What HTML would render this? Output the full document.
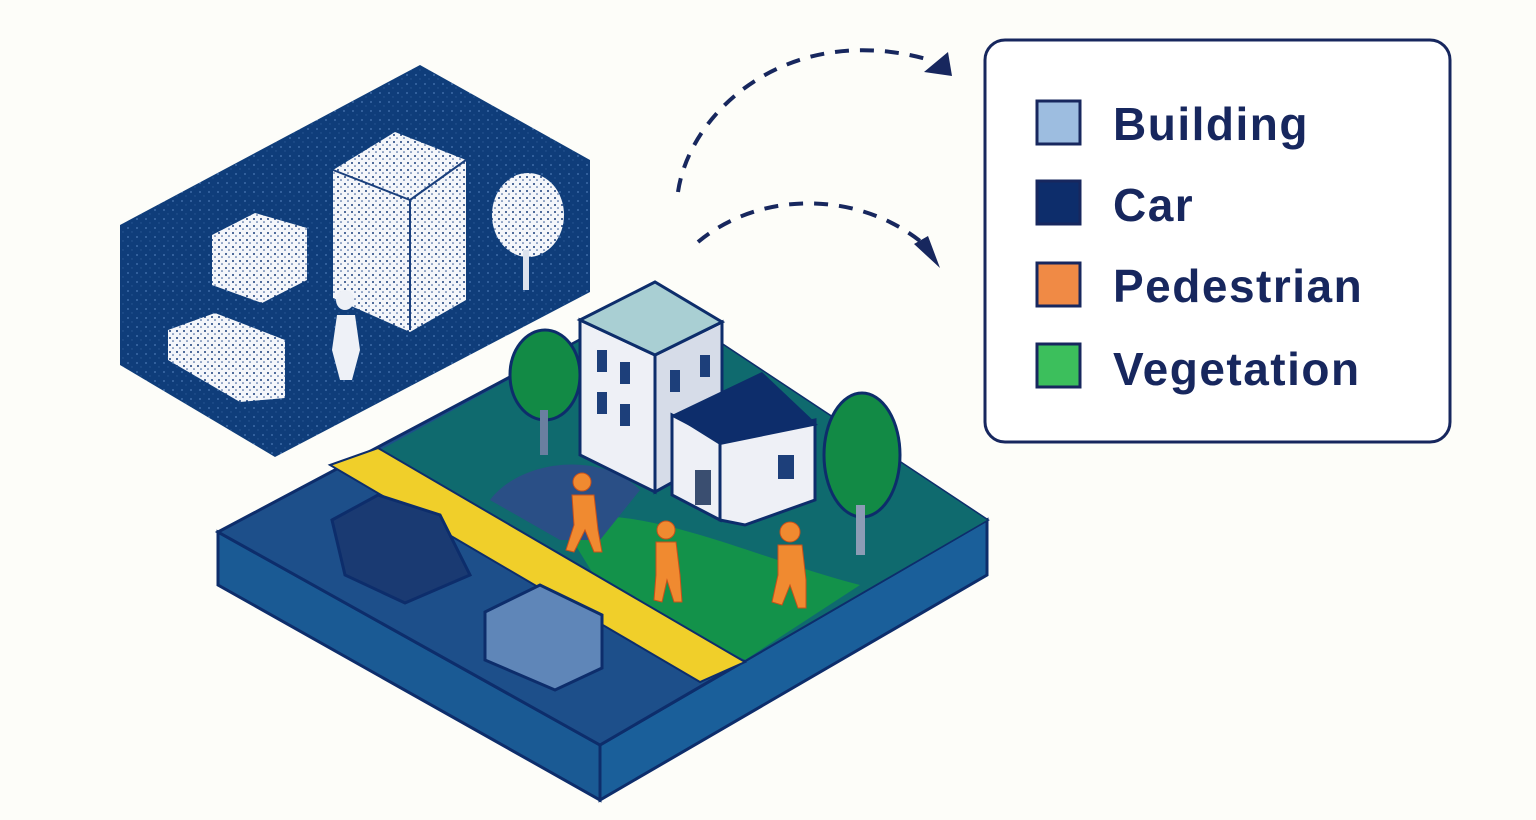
<!DOCTYPE html>
<html><head><meta charset="utf-8"><style>
html,body{margin:0;padding:0;background:#fdfdf9;}
svg{display:block}
text{font-family:"Liberation Sans",sans-serif;font-weight:bold;fill:#17275e;letter-spacing:1.5px}
</style></head><body>
<svg width="1536" height="820" viewBox="0 0 1536 820" xmlns="http://www.w3.org/2000/svg">
<defs>
<pattern id="sp" width="9" height="9" patternUnits="userSpaceOnUse">
<rect width="9" height="9" fill="#0f3d7a"/><circle cx="2" cy="3" r="0.9" fill="#4a78b4"/><circle cx="6" cy="7" r="0.7" fill="#2a5894"/>
</pattern>
<pattern id="ws" width="7" height="7" patternUnits="userSpaceOnUse">
<rect width="7" height="7" fill="#f4f6fa"/><circle cx="2" cy="2" r="1" fill="#1a3f7c"/><circle cx="5" cy="5" r="0.8" fill="#2a5090"/>
</pattern>
</defs>
<polygon points="120,225 420,65 590,160 590,292 275,457 120,365" fill="url(#sp)"/>
<polygon points="212,235 255,213 307,228 307,280 262,303 212,285" fill="url(#ws)"/>
<polygon points="333,170 395,132 466,160 466,300 410,332 333,298" fill="url(#ws)"/>
<line x1="333" y1="170" x2="410" y2="200" stroke="#1a3f7c" stroke-width="2"/><line x1="410" y1="200" x2="466" y2="160" stroke="#1a3f7c" stroke-width="2"/><line x1="410" y1="200" x2="410" y2="330" stroke="#1a3f7c" stroke-width="2"/>
<polygon points="168,330 215,313 285,340 285,398 240,402 168,360" fill="url(#ws)"/>
<ellipse cx="528" cy="215" rx="36" ry="42" fill="url(#ws)"/>
<rect x="523" y="250" width="6" height="40" fill="#dde3ee"/>
<ellipse cx="345" cy="300" rx="9" ry="10" fill="#eef1f7"/>
<polygon points="337,315 355,315 360,350 352,380 340,380 332,350" fill="#eef1f7"/>
<path d="M678,192 C690,110 790,20 930,60" fill="none" stroke="#17275e" stroke-width="4" stroke-dasharray="14,11"/>
<polygon points="924,72 948,52 952,76" fill="#17275e"/>
<path d="M698,242 C760,190 860,190 925,245" fill="none" stroke="#17275e" stroke-width="4" stroke-dasharray="14,11"/>
<polygon points="914,244 940,268 928,236" fill="#17275e"/>
<rect x="985" y="40" width="465" height="402" rx="20" fill="#ffffff" stroke="#17275e" stroke-width="3"/>
<rect x="1037" y="101" width="43" height="43" fill="#9dbde0" stroke="#17275e" stroke-width="3"/>
<rect x="1037" y="181" width="43" height="43" fill="#0d2d6b" stroke="#17275e" stroke-width="3"/>
<rect x="1037" y="263" width="43" height="43" fill="#f08a45" stroke="#17275e" stroke-width="3"/>
<rect x="1037" y="344" width="43" height="43" fill="#3cbf5c" stroke="#17275e" stroke-width="3"/>
<text x="1113" y="140" font-size="46">Building</text>
<text x="1113" y="221" font-size="46">Car</text>
<text x="1113" y="302" font-size="46">Pedestrian</text>
<text x="1113" y="385" font-size="46">Vegetation</text>
<polygon points="218,532 600,745 600,800 218,585" fill="#1a5a94" stroke="#0d2d6b" stroke-width="3"/>
<polygon points="600,745 987,520 987,575 600,800" fill="#1a5f9a" stroke="#0d2d6b" stroke-width="3"/>
<polygon points="218,532 655,300 987,520 600,745" fill="#1d4f8a" stroke="#0d2d6b" stroke-width="3"/>
<polygon points="380,450 655,300 987,520 745,660" fill="#0f6a6e"/>
<path d="M560,520 C640,500 760,560 860,585 L745,660 L600,585 Z" fill="#13924a"/>
<path d="M490,500 C520,460 600,450 640,490 L600,540 L560,540 Z" fill="#2a4f86"/>
<polygon points="330,465 378,448 745,662 700,682" fill="#f0cf2a" stroke="#0d2d6b" stroke-width="2"/>
<path d="M332,520 L378,495 L440,515 L470,575 L405,603 L345,575 Z" fill="#1a3a72" stroke="#0d2d6b" stroke-width="3"/>
<polygon points="485,612 540,585 602,615 602,668 555,690 485,660" fill="#5f86b8" stroke="#0d2d6b" stroke-width="3"/>
<ellipse cx="545" cy="375" rx="35" ry="45" fill="#128a45" stroke="#0d2d6b" stroke-width="3"/>
<rect x="540" y="410" width="8" height="45" fill="#6a7fa0"/>
<ellipse cx="862" cy="455" rx="38" ry="62" fill="#128a45" stroke="#0d2d6b" stroke-width="3"/>
<rect x="856" y="505" width="9" height="50" fill="#8c9cb5"/>
<polygon points="580,320 655,355 655,492 580,455" fill="#eef0f6" stroke="#0d2d6b" stroke-width="3"/>
<polygon points="655,355 722,322 722,455 655,492" fill="#d6dce8" stroke="#0d2d6b" stroke-width="3"/>
<polygon points="580,320 655,282 722,322 655,355" fill="#a9cfd3" stroke="#0d2d6b" stroke-width="3"/>
<g fill="#1d3f7a"><rect x="597" y="350" width="10" height="22"/><rect x="620" y="362" width="10" height="22"/><rect x="597" y="392" width="10" height="22"/><rect x="620" y="404" width="10" height="22"/><rect x="670" y="370" width="10" height="22"/><rect x="700" y="355" width="10" height="22"/></g>
<polygon points="672,415 720,440 720,520 672,495" fill="#eef0f6" stroke="#0d2d6b" stroke-width="3"/>
<polygon points="720,440 815,420 815,500 745,525 720,520" fill="#eef0f6" stroke="#0d2d6b" stroke-width="3"/>
<polygon points="672,415 762,372 818,425 720,445" fill="#0d2d6b"/>
<rect x="778" y="455" width="16" height="24" fill="#1d3f7a"/>
<rect x="695" y="470" width="16" height="35" fill="#3a4e70"/>
<g fill="#f08a30" stroke="#c8501a" stroke-width="1">
<circle cx="582" cy="482" r="9"/><path d="M572,495 L594,495 L598,530 L602,552 L594,552 L585,530 L574,552 L566,550 L574,525 Z"/>
<circle cx="666" cy="530" r="9"/><path d="M656,542 L676,542 L680,575 L682,602 L674,602 L667,580 L662,602 L654,600 L656,575 Z"/>
<circle cx="790" cy="532" r="10"/><path d="M778,545 L802,545 L806,580 L806,608 L798,608 L790,585 L782,605 L772,602 L778,575 Z"/>
</g>
</svg>
</body></html>
